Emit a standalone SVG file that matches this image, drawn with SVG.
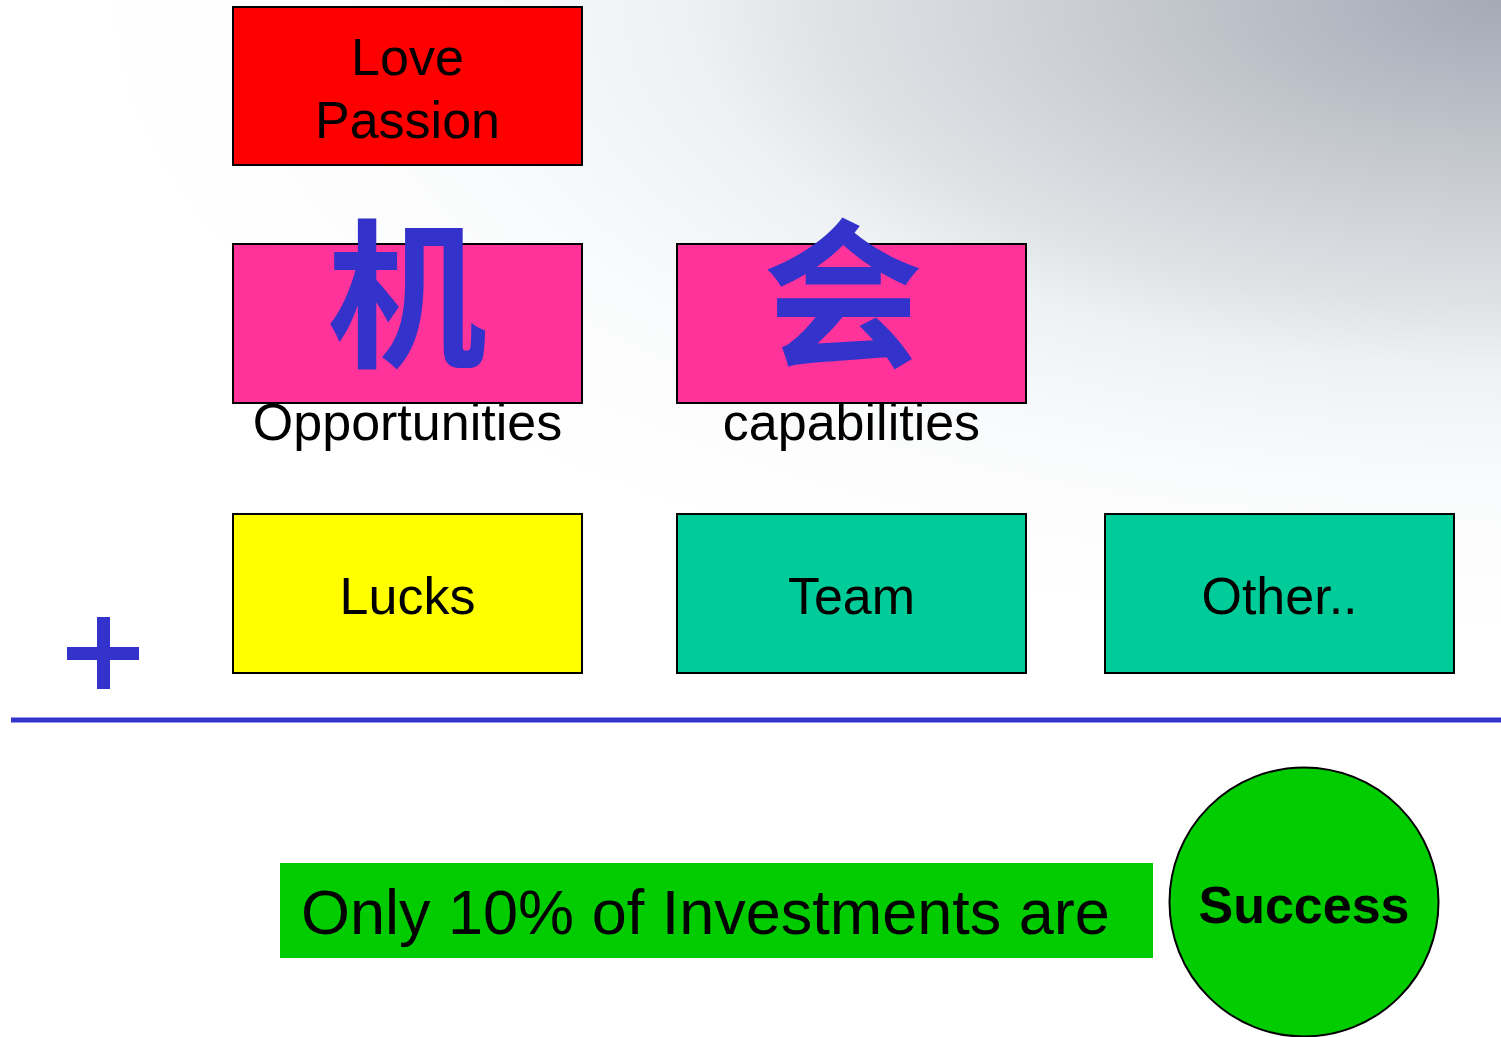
<svg xmlns="http://www.w3.org/2000/svg" width="1501" height="1037" viewBox="0 0 1501 1037">
<defs>
<radialGradient id="bg" gradientUnits="userSpaceOnUse" cx="1501" cy="0" r="1400" gradientTransform="translate(1501 0) scale(1 0.45) translate(-1501 0)">
<stop offset="0" stop-color="#a3aab6"/>
<stop offset="0.29" stop-color="#c9cdd2"/>
<stop offset="0.48" stop-color="#dfe2e5"/>
<stop offset="0.58" stop-color="#eef1f4"/>
<stop offset="0.78" stop-color="#fafbfc"/>
<stop offset="1" stop-color="#ffffff"/>
</radialGradient>
<style>
.box{stroke:#000;stroke-width:2}
.lbl{font-family:"Liberation Sans",Arial,sans-serif;font-size:52px;fill:#000;text-anchor:middle}
.cjk{font-family:"Noto Sans CJK SC","Noto Sans CJK JP",sans-serif;font-size:160px;font-weight:700;fill:#3333CC;text-anchor:middle}
</style>
</defs>
<rect x="0" y="0" width="1501" height="1037" fill="url(#bg)"/>

<g id="love">
<rect class="box" x="233" y="7" width="349" height="158" fill="#FF0000"/>
<text class="lbl" x="407.5" y="75">Love</text>
<text class="lbl" x="407.5" y="138">Passion</text>
</g>

<g id="opportunities">
<rect class="box" x="233" y="244" width="349" height="159" fill="#FF3399"/>
<text class="cjk" x="407" y="355">机</text>
<text class="lbl" x="407.5" y="440">Opportunities</text>
</g>

<g id="capabilities">
<rect class="box" x="677" y="244" width="349" height="159" fill="#FF3399"/>
<text class="cjk" x="843" y="355">会</text>
<text class="lbl" x="851.5" y="440">capabilities</text>
</g>

<g id="lucks">
<rect class="box" x="233" y="514" width="349" height="159" fill="#FFFF00"/>
<text class="lbl" x="407.5" y="614">Lucks</text>
</g>

<g id="team">
<rect class="box" x="677" y="514" width="349" height="159" fill="#00CC99"/>
<text class="lbl" x="851.5" y="614">Team</text>
</g>

<g id="other">
<rect class="box" x="1105" y="514" width="349" height="159" fill="#00CC99"/>
<text class="lbl" x="1279.5" y="614">Other..</text>
</g>

<g id="plus">
<rect x="97" y="617" width="13" height="72" fill="#3333CC"/>
<rect x="67" y="647" width="72" height="13" fill="#3333CC"/>
</g>

<g id="connectors">
<line x1="11" y1="720" x2="1501" y2="720" stroke="#3333CC" stroke-width="5"/>
</g>

<g id="statement">
<rect x="280" y="863" width="873" height="95" fill="#00CC00"/>
<text x="301" y="934" font-family="Liberation Sans, Arial, sans-serif" font-size="63" fill="#000">Only 10% of Investments are</text>
</g>

<g id="success">
<circle cx="1304" cy="902" r="134.5" fill="#00CC00" stroke="#000" stroke-width="2"/>
<text x="1304" y="923" font-family="Liberation Sans, Arial, sans-serif" font-size="52" font-weight="700" fill="#000" text-anchor="middle">Success</text>
</g>
</svg>
